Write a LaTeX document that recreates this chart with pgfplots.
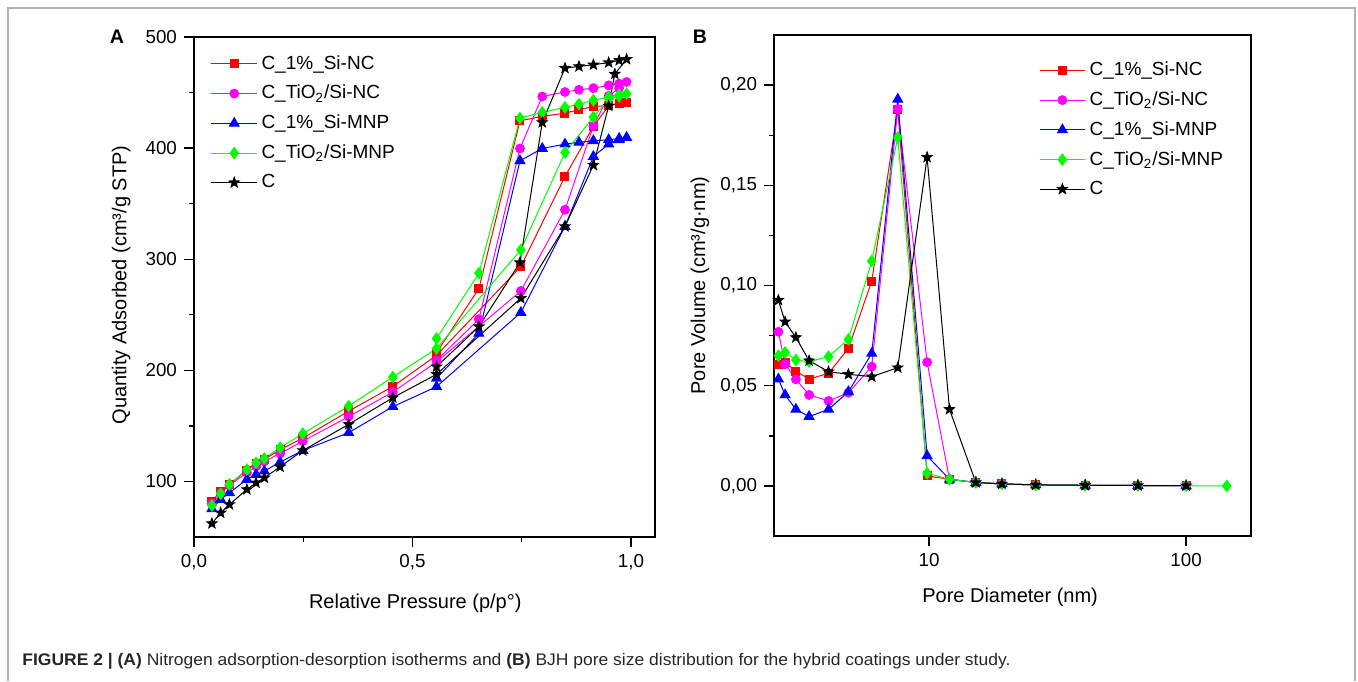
\documentclass[border=0pt]{standalone}
\usepackage{fontspec}
\setmainfont{Liberation Sans}
\usepackage{pgfplots}
\pgfplotsset{compat=1.18}
\definecolor{cR}{RGB}{255,0,0}
\definecolor{cM}{RGB}{255,0,255}
\definecolor{cB}{RGB}{0,0,255}
\definecolor{cG}{RGB}{0,255,0}
\pgfdeclareplotmark{fstar}{%
  \pgfpathmoveto{\pgfpointpolar{90}{\pgfplotmarksize}}%
  \pgfpathlineto{\pgfpointpolar{126}{0.42\pgfplotmarksize}}%
  \pgfpathlineto{\pgfpointpolar{162}{\pgfplotmarksize}}%
  \pgfpathlineto{\pgfpointpolar{198}{0.42\pgfplotmarksize}}%
  \pgfpathlineto{\pgfpointpolar{234}{\pgfplotmarksize}}%
  \pgfpathlineto{\pgfpointpolar{270}{0.42\pgfplotmarksize}}%
  \pgfpathlineto{\pgfpointpolar{306}{\pgfplotmarksize}}%
  \pgfpathlineto{\pgfpointpolar{342}{0.42\pgfplotmarksize}}%
  \pgfpathlineto{\pgfpointpolar{18}{\pgfplotmarksize}}%
  \pgfpathlineto{\pgfpointpolar{54}{0.42\pgfplotmarksize}}%
  \pgfpathclose
  \pgfusepathqfillstroke}
\pgfplotsset{
  myaxis/.style={
    scale only axis,
    axis line style={line width=1pt},
    tick style={line width=0.7pt, black},
    tick align=outside,
    tick pos=left,
    major tick length=5pt,
    minor tick length=2.5pt,
    tick label style={font=\fontsize{9.4}{11}\selectfont},
    label style={font=\fontsize{10}{12}\selectfont},
    /pgf/number format/assume math mode=true,
    legend style={draw=none, fill=none, font=\fontsize{9.5}{11}\selectfont,
      row sep=2.5pt, cells={anchor=west}, inner sep=0pt},
    legend image code/.code={\draw[mark repeat=2,mark phase=2] plot coordinates {(0cm,0cm) (0.4cm,0cm) (0.8cm,0cm)};},
  },
  sr/.style={color=cR, line width=0.5pt, mark=square*, mark size=2pt, mark options={solid}},
  sm/.style={color=cM, line width=0.5pt, mark=*, mark size=2.2pt, mark options={solid}},
  sb/.style={color=cB, line width=0.5pt, mark=triangle*, mark size=2.8pt, mark options={solid}},
  sg/.style={color=cG, line width=0.5pt, mark=diamond*, mark size=2.8pt, mark options={solid}},
  sk/.style={color=black, line width=0.5pt, mark=fstar, mark size=2.6pt, mark options={solid}},
}
\begin{document}
\begin{tikzpicture}
\useasboundingbox (0,0) rectangle (679pt,-340.5pt);
\draw[gray!60, line width=0.9pt] (4pt,-340.5pt) -- (4pt,-4pt) -- (677.5pt,-4pt) -- (677.5pt,-340.5pt);
\node[font=\bfseries\fontsize{9.8}{11}\selectfont] at (58.5pt,-18.5pt) {A};
\node[font=\bfseries\fontsize{9.8}{11}\selectfont] at (350pt,-18.5pt) {B};
\node[anchor=base west, inner sep=0pt, text=black!85] at (11pt,-332.5pt)
  {\resizebox{494pt}{\height}{\fontsize{8.4}{9}\selectfont\textbf{FIGURE 2 | (A)} Nitrogen adsorption-desorption isotherms and \textbf{(B)} BJH pore size distribution for the hybrid coatings under study.}};

% Panel A
\begin{axis}[myaxis, at={(97pt,-268.5pt)}, anchor=south west,
  width=230.5pt, height=250pt,
  xmin=0, xmax=1.055, ymin=50, ymax=500,
  xtick={0,0.5,1}, minor xtick={0.25,0.75},
  ytick={100,200,300,400,500}, minor ytick={150,250,350,450},
  xticklabel style={/pgf/number format/.cd, fixed, fixed zerofill, precision=1, use comma},
  xlabel={Relative Pressure (p/p°)},
  ylabel={Quantity Adsorbed (cm³/g STP)},
  xlabel style={at={(axis description cs:0.48,-0.132)}, anchor=center},
  ylabel style={at={(axis description cs:-0.158,0.504)}, anchor=center},
  legend style={at={(axis description cs:0.036,0.972)}, anchor=north west},
]
\addplot[sr] coordinates {(0.041,82.3)(0.061,91.3)(0.081,97.3)(0.121,110.2)(0.142,116)(0.161,120)(0.197,128.5)(0.249,139)(0.354,163.3)(0.455,185.5)(0.555,213.5)(0.748,293.4)(0.849,374.5)(0.914,419.6)(0.949,438.1)(0.973,440.5)(0.99,441.5)(0.973,440.5)(0.949,438.1)(0.914,437.6)(0.881,434.5)(0.849,431.5)(0.797,428.6)(0.746,424.6)(0.652,273.6)(0.555,216)};
\addlegendentry{C\_1\%\_Si-NC}
\addplot[sm] coordinates {(0.041,80)(0.061,89.5)(0.081,96.5)(0.121,108)(0.142,113.5)(0.161,118)(0.197,125.2)(0.249,136.3)(0.354,158.3)(0.455,180.5)(0.555,207.5)(0.748,271.4)(0.849,344.5)(0.914,420)(0.949,447)(0.973,454)(0.99,459.5)(0.973,458)(0.949,456.5)(0.914,454)(0.881,452.5)(0.849,450.5)(0.797,446.5)(0.746,399.7)(0.652,246)(0.555,209)};
\addlegendentry{C\_TiO\textsubscript{2}/Si-NC}
\addplot[sb] coordinates {(0.041,75.4)(0.061,83.8)(0.081,89.8)(0.121,101.8)(0.142,106.3)(0.161,109.3)(0.197,117.4)(0.249,127.9)(0.354,143.9)(0.455,167.3)(0.555,185.3)(0.748,252)(0.849,329.5)(0.914,392.5)(0.949,403.6)(0.973,407.5)(0.99,409.6)(0.973,408.7)(0.949,407.5)(0.914,406.6)(0.881,405.2)(0.849,403.6)(0.797,399.7)(0.746,388.6)(0.652,233.3)(0.555,192.8)};
\addlegendentry{C\_1\%\_Si-MNP}
\addplot[sg] coordinates {(0.041,78.4)(0.061,88.9)(0.081,97.3)(0.121,110.8)(0.142,116.8)(0.161,120.7)(0.197,130.4)(0.249,143)(0.354,167.8)(0.455,194)(0.555,219.6)(0.748,308.4)(0.849,396.1)(0.914,428)(0.949,444)(0.973,446.5)(0.99,449)(0.973,448)(0.949,446)(0.914,443)(0.881,439.6)(0.849,436.7)(0.797,432.2)(0.746,427)(0.652,287.4)(0.555,228.6)};
\addlegendentry{C\_TiO\textsubscript{2}/Si-MNP}
\addplot[sk] coordinates {(0.041,62.2)(0.061,71.8)(0.081,79.3)(0.121,92.8)(0.142,98.8)(0.161,103.3)(0.197,113.2)(0.249,127.9)(0.354,151.4)(0.455,175.4)(0.555,196.4)(0.748,264.9)(0.849,329.5)(0.914,384.7)(0.949,438)(0.963,466.7)(0.99,480)(0.973,479)(0.949,477)(0.914,475)(0.881,473.5)(0.849,472)(0.797,423.1)(0.746,297)(0.652,239.4)(0.555,203.3)};
\addlegendentry{C}
\end{axis}

% Panel B
\begin{axis}[myaxis, at={(387pt,-268pt)}, anchor=south west,
  width=238.5pt, height=250.5pt,
  xmode=log, xmin=2.49, xmax=179, ymin=-0.025, ymax=0.225,
  xtick={10,100}, xticklabels={10,100}, minor xtick={},
  minor x tick style={draw=none},
  ytick={0,0.05,0.1,0.15,0.2}, minor ytick={0.025,0.075,0.125,0.175},
  minor y tick style={draw=black},
  scaled y ticks=false,
  yticklabel style={/pgf/number format/.cd, fixed, fixed zerofill, precision=2, use comma},
  xlabel={Pore Diameter (nm)},
  ylabel={Pore Volume (cm³/g·nm)},
  xlabel style={at={(axis description cs:0.495,-0.122)}, anchor=center},
  ylabel style={at={(axis description cs:-0.155,0.5)}, anchor=center},
  legend style={at={(axis description cs:0.555,0.955)}, anchor=north west},
]
\addplot[sr] coordinates {(2.59,0.0607)(2.75,0.0617)(3.03,0.0573)(3.41,0.0533)(4.06,0.0562)(4.85,0.0686)(5.98,0.1022)(7.55,0.1878)(9.82,0.005)(12.0,0.0033)(15.2,0.0017)(19.2,0.001)(26,0.0005)(40.5,0.0003)(65,0.0002)(100,0.0001)};
\addlegendentry{C\_1\%\_Si-NC}
\addplot[sm] coordinates {(2.59,0.0769)(2.75,0.0607)(3.03,0.0532)(3.41,0.0454)(4.06,0.0424)(4.85,0.0465)(5.98,0.0595)(7.55,0.188)(9.82,0.0617)(12.0,0.0033)(15.2,0.0017)(19.2,0.001)(26,0.0005)(40.5,0.0003)(65,0.0002)(100,0.0001)};
\addlegendentry{C\_TiO\textsubscript{2}/Si-NC}
\addplot[sb] coordinates {(2.59,0.0533)(2.75,0.0454)(3.03,0.0382)(3.41,0.0346)(4.06,0.0382)(4.85,0.047)(5.98,0.0661)(7.55,0.1929)(9.82,0.015)(12.0,0.0033)(15.2,0.0017)(19.2,0.001)(26,0.0005)(40.5,0.0003)(65,0.0002)(100,0.0001)};
\addlegendentry{C\_1\%\_Si-MNP}
\addplot[sg] coordinates {(2.59,0.065)(2.75,0.0666)(3.03,0.0628)(3.41,0.062)(4.06,0.0645)(4.85,0.0731)(5.98,0.1122)(7.55,0.1738)(9.82,0.0063)(12.0,0.0033)(15.2,0.0017)(19.2,0.001)(26,0.0005)(40.5,0.0003)(65,0.0002)(100,0.0001)(144,0)};
\addlegendentry{C\_TiO\textsubscript{2}/Si-MNP}
\addplot[sk] coordinates {(2.59,0.0927)(2.75,0.0819)(3.03,0.0741)(3.41,0.0625)(4.06,0.057)(4.85,0.0557)(5.98,0.0545)(7.55,0.059)(9.82,0.164)(12.0,0.0382)(15.2,0.0017)(19.2,0.001)(26,0.0005)(40.5,0.0003)(65,0.0002)(100,0.0001)};
\addlegendentry{C}
\end{axis}
\end{tikzpicture}
\end{document}
